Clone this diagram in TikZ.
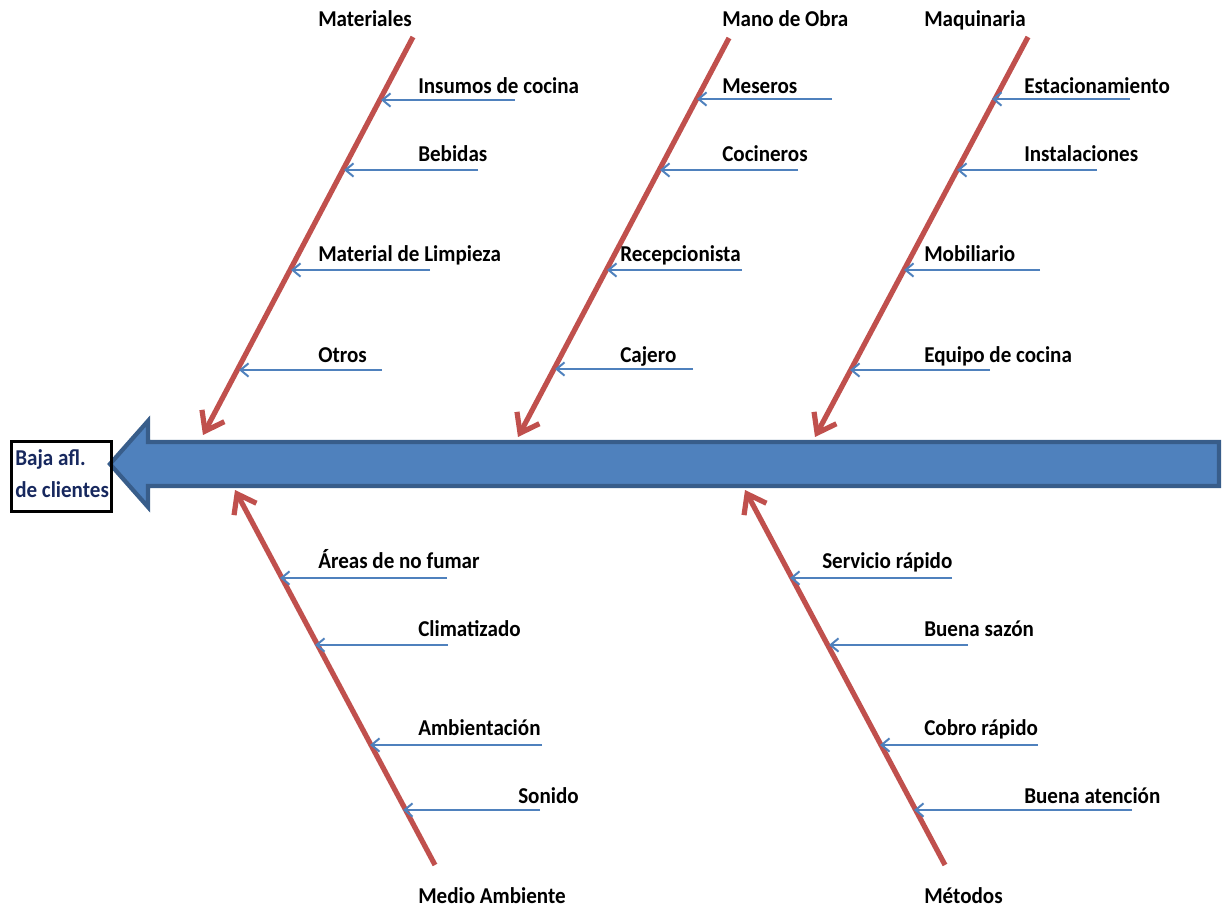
\documentclass[tikz,border=0pt]{standalone}
\usepackage{fontspec}
\setmainfont[FakeStretch=0.93]{Carlito}
\usetikzlibrary{arrows.meta}
\definecolor{fbred}{HTML}{C0504D}
\definecolor{fbblue}{HTML}{4F81BD}
\definecolor{fbdark}{HTML}{385D8A}
\definecolor{fbnavy}{HTML}{17285E}
\tikzset{
  bone/.style={draw=fbred, line width=3.9pt, -{Straight Barb[length=13pt,width=19pt]}},
  rib/.style={draw=fbblue, line width=1.5pt, -{Straight Barb[length=6pt,width=10pt]}},
  lbl/.style={anchor=base west, inner sep=0pt, font=\fontsize{17}{20}\selectfont\bfseries},
  headtxt/.style={anchor=base west, inner sep=0pt, text=fbnavy, font=\fontsize{17}{20}\selectfont\bfseries},
}
\begin{document}
\begin{tikzpicture}[x=0.75pt,y=-0.75pt]
\useasboundingbox (0,0) rectangle (1222,909);
% spine
\draw[fill=fbblue, draw=fbdark, line width=3.2pt, line join=miter]
  (1219,442) -- (148,442) -- (148,421) -- (110,464) -- (148,507) -- (148,486) -- (1219,486) -- cycle;
% head box
\node[draw=black, line width=2.4pt, minimum width=100pt*0.75, minimum height=70pt*0.75, anchor=north west, inner sep=0pt] (head) at (10,440) {};
\node[headtxt] (h1) at (15,465) {Baja afl.};
\node[headtxt] (h2) at (15,498) {de clientes};
% bone coordinates
\coordinate (m0) at (413,37);   \coordinate (m1) at (203,435);
\coordinate (o0) at (729,38);   \coordinate (o1) at (518,437);
\coordinate (q0) at (1028,37);  \coordinate (q1) at (815,437);
\coordinate (a0) at (435,865);  \coordinate (a1) at (235,490);
\coordinate (t0) at (945,865);  \coordinate (t1) at (745,490);
\draw[bone] (m0) -- (m1);
\draw[bone] (o0) -- (o1);
\draw[bone] (q0) -- (q1);
\draw[bone] (a0) -- (a1);
\draw[bone] (t0) -- (t1);
% category labels
\node[lbl] (Lmat) at (318,27) {Materiales};
\node[lbl] (Lmo) at (722,27) {Mano de Obra};
\node[lbl] (Lmaq) at (924,27) {Maquinaria};
\node[lbl] (Lamb) at (418,903) {Medio Ambiente};
\node[lbl] (Lmet) at (924,903) {Métodos};
% ribs: Materiales
\coordinate (r11) at (515,100); \coordinate (e11) at (381,100);
\coordinate (r12) at (478,170); \coordinate (e12) at (344,170);
\coordinate (r13) at (430,270); \coordinate (e13) at (291,270);
\coordinate (r14) at (382,370); \coordinate (e14) at (239,370);
\draw[rib] (r11) -- (e11); \draw[rib] (r12) -- (e12);
\draw[rib] (r13) -- (e13); \draw[rib] (r14) -- (e14);
\node[lbl] (t11) at (418,94) {Insumos de cocina};
\node[lbl] (t12) at (418,162) {Bebidas};
\node[lbl] (t13) at (318,262) {Material de Limpieza};
\node[lbl] (t14) at (318,363) {Otros};
% ribs: Mano de Obra
\coordinate (r21) at (832,99);  \coordinate (e21) at (697,99);
\coordinate (r22) at (798,170); \coordinate (e22) at (660,170);
\coordinate (r23) at (742,270); \coordinate (e23) at (607,270);
\coordinate (r24) at (693,369); \coordinate (e24) at (555,369);
\draw[rib] (r21) -- (e21); \draw[rib] (r22) -- (e22);
\draw[rib] (r23) -- (e23); \draw[rib] (r24) -- (e24);
\node[lbl] (t21) at (722,94) {Meseros};
\node[lbl] (t22) at (722,162) {Cocineros};
\node[lbl] (t23) at (620,262) {Recepcionista};
\node[lbl] (t24) at (620,363) {Cajero};
% ribs: Maquinaria
\coordinate (r31) at (1130,99);  \coordinate (e31) at (992,99);
\coordinate (r32) at (1097,170); \coordinate (e32) at (957,170);
\coordinate (r33) at (1040,270); \coordinate (e33) at (904,270);
\coordinate (r34) at (990,370);  \coordinate (e34) at (850,370);
\draw[rib] (r31) -- (e31); \draw[rib] (r32) -- (e32);
\draw[rib] (r33) -- (e33); \draw[rib] (r34) -- (e34);
\node[lbl] (t31) at (1024,94) {Estacionamiento};
\node[lbl] (t32) at (1024,162) {Instalaciones};
\node[lbl] (t33) at (924,262) {Mobiliario};
\node[lbl] (t34) at (924,363) {Equipo de cocina};
% ribs: Medio Ambiente
\coordinate (r41) at (447,578); \coordinate (e41) at (280,578);
\coordinate (r42) at (448,645); \coordinate (e42) at (315,645);
\coordinate (r43) at (542,745); \coordinate (e43) at (370,745);
\coordinate (r44) at (540,810); \coordinate (e44) at (403,810);
\draw[rib] (r41) -- (e41); \draw[rib] (r42) -- (e42);
\draw[rib] (r43) -- (e43); \draw[rib] (r44) -- (e44);
\node[lbl] (t41) at (318,568) {Áreas de no fumar};
\node[lbl] (t42) at (418,636) {Climatizado};
\node[lbl] (t43) at (418,735) {Ambientación};
\node[lbl] (t44) at (518,803) {Sonido};
% ribs: Metodos
\coordinate (r51) at (952,578);  \coordinate (e51) at (790,578);
\coordinate (r52) at (968,645);  \coordinate (e52) at (829,645);
\coordinate (r53) at (1038,745); \coordinate (e53) at (880,745);
\coordinate (r54) at (1132,810); \coordinate (e54) at (914,810);
\draw[rib] (r51) -- (e51); \draw[rib] (r52) -- (e52);
\draw[rib] (r53) -- (e53); \draw[rib] (r54) -- (e54);
\node[lbl] (t51) at (822,568) {Servicio rápido};
\node[lbl] (t52) at (924,636) {Buena sazón};
\node[lbl] (t53) at (924,735) {Cobro rápido};
\node[lbl] (t54) at (1024,803) {Buena atención};
\end{tikzpicture}
\end{document}
